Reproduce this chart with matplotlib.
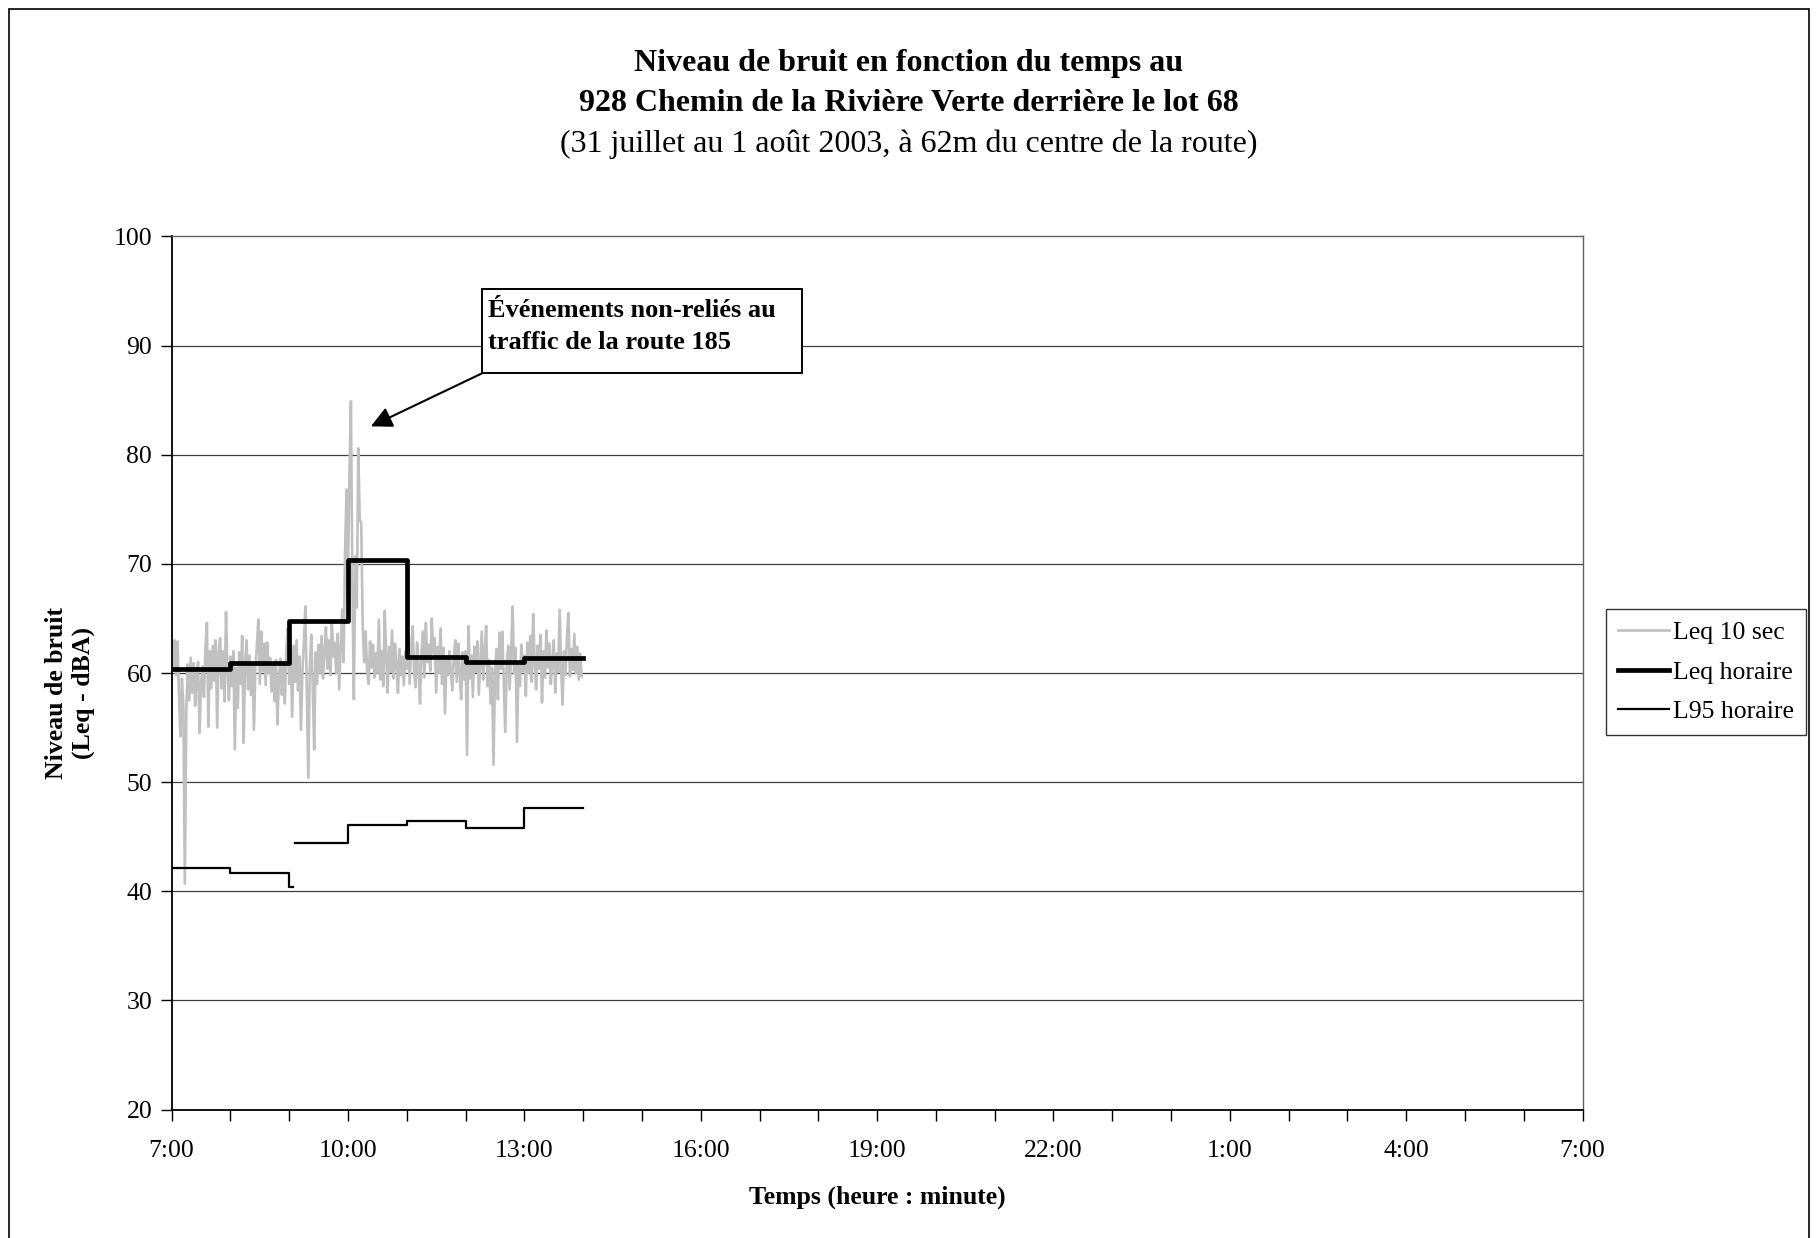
import numpy as np
import matplotlib
matplotlib.use("Agg")
import matplotlib.pyplot as plt
from matplotlib.patches import Rectangle
from matplotlib.ticker import FixedLocator, FuncFormatter

plt.rcParams['font.family'] = ['Liberation Serif', 'DejaVu Serif']

# Leq 10 sec (one reading every 1.5 min, per hour)
leq10_7h = [62.8, 60.5, 63.0, 59.8, 62.9, 58.0, 54.2, 59.5, 57.0, 40.7,
            56.6, 60.8, 57.5, 61.4, 58.2, 60.9, 57.0, 59.8, 61.0, 54.5,
            59.0, 60.6, 57.8, 62.2, 64.6, 55.1, 62.0, 58.6, 62.5, 59.3,
            63.0, 55.0, 61.8, 63.2, 58.6, 62.0, 57.4, 65.6, 60.2, 57.5]
leq10_8h = [61.5, 58.8, 62.0, 53.0, 60.5, 56.8, 61.9, 59.0, 63.4, 53.6,
            61.0, 63.0, 58.5, 61.6, 58.0, 60.9, 54.8, 60.5, 62.5, 64.9,
            59.0, 63.8, 60.2, 62.7, 58.9, 62.8, 60.0, 61.4, 58.3, 60.8,
            57.4, 61.2, 55.3, 59.5, 61.3, 58.0, 60.6, 57.2, 62.0, 64.1]
leq10_9h = [59.0, 61.8, 56.0, 62.5, 59.2, 63.0, 58.4, 61.5, 54.8, 60.2,
            62.8, 66.1, 58.0, 50.4, 60.5, 63.5, 58.8, 53.0, 61.9, 59.0,
            62.6, 60.0, 63.4, 59.5, 62.0, 64.2, 60.4, 63.0, 59.8, 64.8,
            61.5, 62.8, 60.0, 63.6, 58.5, 62.2, 65.8, 61.0, 71.0, 76.8]
leq10_10h = [69.5, 78.2, 84.9, 68.0, 57.6, 70.7, 66.0, 80.6, 74.0, 73.8,
             64.5, 61.0, 63.8, 60.2, 59.0, 62.9, 60.5, 62.6, 59.6, 61.8,
             60.0, 64.9, 59.4, 62.0, 58.8, 65.7, 61.5, 58.2, 62.4, 60.1,
             63.9, 59.5, 62.7, 60.8, 58.2, 62.2, 59.8, 61.5, 58.9, 62.0]
leq10_11h = [60.4, 63.0, 59.0, 62.5, 64.3, 60.0, 58.7, 62.8, 60.5, 57.2,
             61.9, 63.8, 59.6, 64.6, 61.0, 62.6, 60.2, 65.0, 61.8, 63.2,
             58.2, 62.4, 60.0, 64.1, 59.0, 62.3, 56.3, 61.4, 59.8, 62.0,
             60.2, 58.4, 61.5, 63.0, 59.2, 62.7, 60.0, 57.6, 61.9, 59.4]
leq10_12h = [62.0, 52.5, 64.3, 59.5, 61.6, 57.8, 62.4, 60.1, 62.9, 58.0,
             60.8, 63.8, 59.4, 62.0, 64.3, 58.8, 61.2, 57.2, 60.5, 51.6,
             59.8, 62.2, 57.6, 63.7, 60.4, 63.8, 59.2, 54.6, 60.7, 62.5,
             58.5, 61.8, 66.1, 60.0, 62.3, 53.7, 61.0, 58.8, 62.6, 60.2]
leq10_13h = [61.6, 57.9, 62.8, 60.0, 63.4, 59.2, 65.4, 61.0, 58.5, 62.5,
             60.4, 63.5, 57.3, 62.0, 59.6, 63.9, 60.5, 62.7, 59.0, 61.2,
             63.0, 58.2, 61.8, 60.1, 65.8, 60.6, 57.1, 62.0, 59.8, 63.4,
             65.5, 59.7, 62.2, 60.3, 63.6, 60.0, 62.4, 59.4, 61.8, 59.7]
leq10_by_hour = [leq10_7h, leq10_8h, leq10_9h, leq10_10h, leq10_11h, leq10_12h, leq10_13h]
first_hour = 7
step_min = 1.5

# hourly Leq
leq_hours = [7, 8, 9, 10, 11, 12, 13, 14.0]
leq_hourly = [60.4, 60.9, 64.8, 70.4, 61.5, 61.0, 61.4, 61.4]

# hourly L95 (short break just after 9:00)
l95_hours = [7, 8, 9, 9.07, 9.1, 10, 11, 12, 13, 14.0]
l95_hourly = [42.1, 41.7, 40.4, np.nan, 44.4, 46.1, 46.4, 45.8, 47.6, 47.6]

x_ticks = list(range(7, 32))
x_labels_every = 3

t10 = []
v10 = []
for k, vals in enumerate(leq10_by_hour):
    for i, v in enumerate(vals):
        t10.append(first_hour + k + i * step_min / 60.0)
        v10.append(v)

fig = plt.figure(figsize=(18.18, 12.38), dpi=100)
ax = fig.add_axes([0.0944, 0.1037, 0.7761, 0.7053])

ax.plot(t10, v10, color='#c0c0c0', lw=1.9, label='Leq 10 sec', zorder=2)
ax.plot(leq_hours, leq_hourly, color='black', lw=3.4, drawstyle='steps-post',
        label='Leq horaire', zorder=3)
ax.plot(l95_hours, l95_hourly, color='black', lw=1.6, drawstyle='steps-post',
        label='L95 horaire', zorder=3)

ax.set_xlim(7, 31)
ax.set_ylim(20, 100)
ax.set_yticks(range(20, 101, 10))
ax.tick_params(axis='y', labelsize=18.5, length=8, width=1, direction='out', pad=6)
ax.xaxis.set_major_locator(FixedLocator(x_ticks))
ax.xaxis.set_major_formatter(FuncFormatter(
    lambda h, p: f"{int(round(h)) % 24}:00" if (int(round(h)) - 7) % x_labels_every == 0 else ""))
ax.tick_params(axis='x', labelsize=18.5, length=8, width=1, direction='out', pad=14)

for y in range(30, 100, 10):
    ax.axhline(y, color='#404040', lw=0.9, zorder=1)

for s in ['left', 'bottom']:
    ax.spines[s].set_color('black')
    ax.spines[s].set_linewidth(1.3)
for s in ['top', 'right']:
    ax.spines[s].set_color('#606060')
    ax.spines[s].set_linewidth(1.0)

ax.set_xlabel('Temps (heure : minute)', fontsize=18.5, fontweight='bold')
ax.xaxis.set_label_coords(0.5, -0.087)
ax.set_ylabel('Niveau de bruit\n(Leq - dBA)', fontsize=18.5, fontweight='bold', linespacing=1.25)
ax.yaxis.set_label_coords(-0.054, 0.477)

# annotation box + arrow
ax.add_patch(Rectangle((12.28, 87.46), 5.44, 7.7, facecolor='white', edgecolor='black',
                       lw=1.4, zorder=5, clip_on=False))
ax.text(12.38, 94.3, 'Événements non-reliés au\ntraffic de la route 185', fontsize=19,
        fontweight='bold', ha='left', va='top', linespacing=1.5, zorder=6)
ax.annotate('', xy=(10.39, 82.6), xytext=(12.28, 87.46),
            arrowprops=dict(arrowstyle='-|>', color='black', lw=1.5, mutation_scale=32,
                            shrinkA=0, shrinkB=0), zorder=6)

leg = ax.legend(loc='center left', bbox_to_anchor=(0.8835, 0.457), bbox_transform=fig.transFigure,
                fontsize=18.5, frameon=True, fancybox=False, handlelength=2.0,
                handletextpad=0.15, labelspacing=0.65, borderpad=0.45, borderaxespad=0)
leg.get_frame().set_edgecolor('black')
leg.get_frame().set_linewidth(1.0)

fig.text(0.5, 0.949, 'Niveau de bruit en fonction du temps au', ha='center', va='center',
         fontsize=23, fontweight='bold')
fig.text(0.5, 0.916, '928 Chemin de la Rivière Verte derrière le lot 68', ha='center', va='center',
         fontsize=23, fontweight='bold')
fig.text(0.5, 0.8835, '(31 juillet au 1 août 2003, à 62m du centre de la route)', ha='center',
         va='center', fontsize=23)

fig.add_artist(Rectangle((9 / 1818, -0.01), 1800 / 1818, 1 - 9 / 1238 + 0.01, transform=fig.transFigure,
                         fill=False, edgecolor='black', lw=1.2, clip_on=False))

fig.savefig('out.png', dpi=100, facecolor='white')
